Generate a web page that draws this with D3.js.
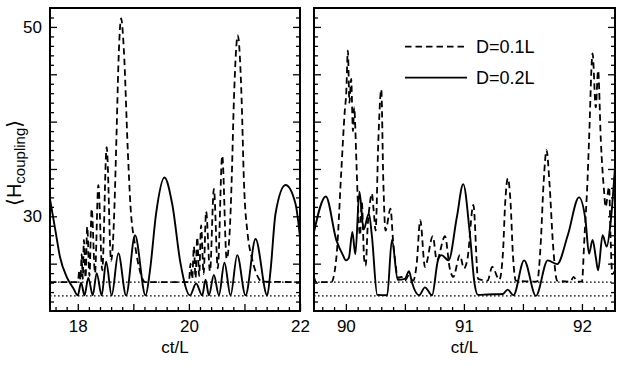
<!DOCTYPE html>
<html>
<head>
<meta charset="utf-8">
<script src="https://cdn.jsdelivr.net/npm/d3@7"></script>
<style>
body { margin: 0; background: #fff; }
svg { display: block; font-family: "Liberation Sans", Arial, Helvetica, sans-serif; }
</style>
</head>
<body>
<svg id="chart" width="623" height="366"></svg>
<script>
// values, [ct/L, <H>]
var leftDashed = [
  [17.5,23.05],[18.0,23.05],[18.03,24.3],[18.05,23.3],[18.07,26.0],[18.09,23.4],[18.11,27.5],[18.14,23.5],
  [18.17,28.9],[18.21,23.7],[18.25,30.8],[18.31,24.0],[18.37,33.3],[18.44,24.3],[18.52,37.3],[18.6,25.3],
  [18.66,31],[18.69,37],[18.74,47.5],[18.78,50.9],[18.83,47.5],[18.9,37],[18.95,31],[19.03,27],
  [19.12,24.2],[19.21,23.05],[20.0,23.05],[20.03,25.0],[20.06,23.4],[20.09,26.8],[20.12,23.5],[20.15,27.8],
  [20.185,23.7],[20.22,29.05],[20.265,23.9],[20.31,30.5],[20.38,24.2],[20.45,32.9],[20.52,24.5],[20.6,36.4],
  [20.68,25.5],[20.74,29],[20.77,33.8],[20.81,42.2],[20.88,49.1],[20.95,42.2],[20.99,33.8],[21.06,28],
  [21.13,25.7],[21.2,24.2],[21.32,23.1],[22.0,23.05]
];
var leftSolid = [
  [17.5,31.8],[17.6,28.4],[17.68,25.7],[17.8,23.6],[17.92,22.4],[18.0,21.65],
  [18.06,23.0],[18.12,21.65],[18.19,23.5],[18.27,21.65],[18.34,24.0],[18.43,21.65],[18.51,25.2],[18.61,21.65],
  [18.73,26.1],[18.87,21.65],[19.03,28.0],[19.22,21.65],[19.3,24.3],[19.41,30.3],[19.56,34.1],[19.7,31.3],
  [19.85,25.0],[20.02,21.65],[20.13,22.9],[20.24,21.65],[20.3,23.3],[20.36,21.65],[20.45,23.8],[20.54,21.65],
  [20.64,25.1],[20.75,21.65],[20.87,25.9],[21.02,21.65],[21.2,27.6],[21.41,21.65],[21.47,24.3],[21.56,30.3],
  [21.74,33.3],[21.92,31.3],[22.0,27.8]
];
var rightDashed = [
  [89.73,23.6],[89.75,23.05],[89.877,23.05],[89.92,25.7],[89.96,34.5],[89.99,41.0],[90.003,43],[90.017,47.5],
  [90.03,42],[90.045,44.5],[90.06,39],[90.07,41.5],[90.09,35.5],[90.1,32],[90.12,28],[90.135,31.5],
  [90.155,25.5],[90.168,24.8],[90.185,29],[90.2,31],[90.22,32.4],[90.235,30.7],[90.252,28.5],[90.275,38],
  [90.3,43.4],[90.317,33.8],[90.336,28.5],[90.378,30.8],[90.4,27.4],[90.42,25.0],[90.44,23.5],[90.47,23.6],
  [90.5,23.2],[90.53,23.7],[90.57,23.2],[90.6,25],[90.63,29.6],[90.67,24.65],[90.737,27.9],[90.77,25.35],
  [90.84,27.9],[90.88,24.5],[90.91,23.6],[90.966,25.9],[91.0,24.5],[91.03,25.5],[91.08,31.2],[91.12,23.4],
  [91.2,23.2],[91.24,24.65],[91.3,23.3],[91.33,26],[91.35,31.5],[91.372,34.0],[91.395,31.5],[91.415,26],
  [91.44,23.2],[91.62,23.1],[91.65,27],[91.675,33.5],[91.7,37.0],[91.725,33.5],[91.755,27],[91.79,23.2],
  [91.9,23.1],[91.93,23.6],[91.96,23.1],[92.0,23.1],[92.02,27.5],[92.047,33.8],[92.06,38],[92.09,47.2],
  [92.117,41.5],[92.137,45.4],[92.16,38],[92.187,32.7],[92.2,31],[92.23,33.1],[92.243,27.5],[92.257,23.9],
  [92.28,24.3]
];
var rightSolid = [
  [89.73,28.35],[89.83,32.1],[89.92,27.46],[89.975,25.9],[90.0,25.35],[90.025,25.6],[90.055,28.35],[90.08,26.0],
  [90.115,32.6],[90.15,28.6],[90.195,30.3],[90.22,28.0],[90.266,21.7],[90.35,21.66],[90.39,27.5],[90.44,23.3],
  [90.5,23.4],[90.535,24.2],[90.56,23.0],[90.62,21.66],[90.67,22.5],[90.73,21.66],[90.78,25.35],[90.81,25.9],
  [90.87,25.35],[90.94,29.9],[90.994,33.4],[91.05,28.2],[91.09,22.9],[91.12,21.7],[91.2,21.75],[91.33,21.8],
  [91.37,22.26],[91.42,21.66],[91.51,25.35],[91.61,21.6],[91.71,25.35],[91.79,24.95],[91.88,28],[91.975,32.0],
  [92.03,29.6],[92.06,26.06],[92.09,27.5],[92.117,25.7],[92.137,24.3],[92.175,28.0],[92.21,26.8],[92.24,29],
  [92.28,35.2]
];
var baseLevels = [23.05, 21.6];

var yDomain = [20, 52];
var yMajor = [25, 30, 35, 40, 45, 50];
var yLabeled = [30, 50];

var leftDomain = [17.5, 22], leftMajor = [18, 19, 20, 21, 22], leftLabeled = [18, 20, 22];
var rightDomain = [89.73, 92.28], rightMajor = [90, 90.5, 91, 91.5, 92], rightLabeled = [90, 91, 92];

var legendNames = ["D=0.1L", "D=0.2L"];

var svg = d3.select("#chart");
var plotTop = 8, plotBottom = 311;

var y = d3.scaleLinear().domain(yDomain).range([plotBottom, plotTop]);
var yMinor = d3.range(21, 52, 1).filter(function (v) { return yMajor.indexOf(v) < 0; });

function panel(id, x0, x1, domain, major, labeled, minorStep, dashed, solid, showYLabels) {
  var x = d3.scaleLinear().domain(domain).range([x0, x1]);
  var g = svg.append("g");

  g.append("clipPath").attr("id", id)
    .append("rect").attr("x", x0).attr("y", plotTop).attr("width", x1 - x0).attr("height", plotBottom - plotTop);

  var minor = d3.range(Math.ceil(domain[0] / minorStep) * minorStep, domain[1], minorStep)
    .map(function (v) { return +v.toFixed(3); })
    .filter(function (v) { return major.indexOf(v) < 0; });

  // bottom ticks, pointing in
  g.append("g").attr("transform", "translate(0," + plotBottom + ")")
    .call(d3.axisBottom(x).tickValues(minor).tickSize(-4).tickFormat(""));
  g.append("g").attr("transform", "translate(0," + plotBottom + ")")
    .call(d3.axisBottom(x).tickValues(major).tickSize(-7).tickPadding(9)
      .tickFormat(function (d) { return labeled.indexOf(d) >= 0 ? d : ""; }));

  // left + right ticks
  g.append("g").attr("transform", "translate(" + x0 + ",0)")
    .call(d3.axisLeft(y).tickValues(yMinor).tickSize(-4).tickFormat(""));
  g.append("g").attr("transform", "translate(" + x0 + ",0)")
    .call(d3.axisLeft(y).tickValues(yMajor).tickSize(-7).tickPadding(8)
      .tickFormat(function (d) { return showYLabels && yLabeled.indexOf(d) >= 0 ? d : ""; }));
  g.append("g").attr("transform", "translate(" + x1 + ",0)")
    .call(d3.axisRight(y).tickValues(yMinor).tickSize(-4).tickFormat(""));
  g.append("g").attr("transform", "translate(" + x1 + ",0)")
    .call(d3.axisRight(y).tickValues(yMajor).tickSize(-7).tickFormat(""));

  g.selectAll(".domain").remove();
  g.selectAll(".tick line").attr("stroke", "#000").attr("stroke-width", 1.3);
  g.selectAll(".tick text").attr("font-size", 17).attr("fill", "#000")
    .attr("font-family", "Liberation Sans, Arial, sans-serif");

  var plot = g.append("g").attr("clip-path", "url(#" + id + ")");

  plot.selectAll("line.base").data(baseLevels).enter().append("line")
    .attr("x1", x0).attr("x2", x1)
    .attr("y1", function (d) { return y(d); }).attr("y2", function (d) { return y(d); })
    .attr("stroke", "#000").attr("stroke-width", 1.3).attr("stroke-dasharray", "1.6,2.4");

  var line = d3.line()
    .x(function (d) { return x(d[0]); })
    .y(function (d) { return y(d[1]); })
    .curve(d3.curveMonotoneX);

  plot.append("path").datum(dashed).attr("d", line)
    .attr("fill", "none").attr("stroke", "#000").attr("stroke-width", 1.8)
    .attr("stroke-dasharray", "6.5,4");
  plot.append("path").datum(solid).attr("d", line)
    .attr("fill", "none").attr("stroke", "#000").attr("stroke-width", 1.9);

  g.append("rect").attr("x", x0).attr("y", plotTop).attr("width", x1 - x0).attr("height", plotBottom - plotTop)
    .attr("fill", "none").attr("stroke", "#000").attr("stroke-width", 2);

  g.append("text").attr("x", (x0 + x1) / 2).attr("y", 353)
    .attr("text-anchor", "middle").attr("font-size", 17).text("ct/L");
  return x;
}

panel("clipL", 50, 300, leftDomain, leftMajor, leftLabeled, 0.2, leftDashed, leftSolid, true);
panel("clipR", 314, 615, rightDomain, rightMajor, rightLabeled, 0.1, rightDashed, rightSolid, false);

// legend
var leg = svg.append("g");
[0, 1].forEach(function (i) {
  var ly = 46.7 + i * 31;
  leg.append("line").attr("x1", 405).attr("x2", 467).attr("y1", ly).attr("y2", ly)
    .attr("stroke", "#000").attr("stroke-width", 1.8)
    .attr("stroke-dasharray", i === 0 ? "6.5,4" : null);
  leg.append("text").attr("x", 476).attr("y", ly).attr("dy", "0.36em")
    .attr("font-size", 18).text(legendNames[i]);
});

// y label
var yl = svg.append("text").attr("transform", "translate(21,163) rotate(-90)")
  .attr("text-anchor", "middle").attr("font-size", 20);
yl.append("tspan").attr("font-family", "DejaVu Sans").attr("font-weight", 300).text("\u27E8");
yl.append("tspan").text("H");
yl.append("tspan").attr("font-size", 15).attr("dy", 4).text("coupling");
yl.append("tspan").attr("dy", -4).attr("font-family", "DejaVu Sans").text("\u27E9");
</script>
</body>
</html>
